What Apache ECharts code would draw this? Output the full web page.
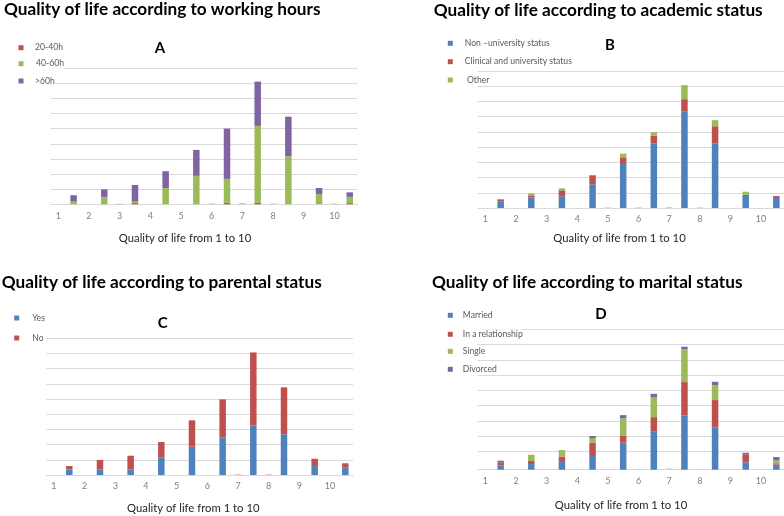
<!DOCTYPE html>
<html>
<head>
<meta charset="utf-8">
<script src="https://cdn.jsdelivr.net/npm/echarts@6/dist/echarts.min.js"></script>
<style>html,body{margin:0;padding:0;background:#fff;}#c{width:784px;height:516px;}</style>
</head>
<body>
<div id="c"></div>
<script>
// Tick labels (20 slots: labels on even slots, bars between them)
var tickLabels = ['1','','2','','3','','4','','5','','6','','7','','8','','9','','10',''];

// A: working hours (bars at 1.5 ... 10.5)
var A_20_40 = [0, 0, 0.8, 0, 0, 1.0, 1.0, 0, 0, 0.8];
var A_40_60 = [1.8, 4.9, 1.0, 10.8, 18.8, 15.8, 50.9, 31.8, 6.8, 4.1];
var A_60    = [4.2, 5.0, 11.0, 11.1, 17.2, 33.3, 29.3, 26.2, 4.0, 3.0];
var A_stub  = [0, 0, 0.5, 0, 0, 0.6, 0.8, 0.5, 0, 0.5];

// B: academic status
var B_non   = [4.4, 6.8, 7.7, 15.6, 29.6, 42.5, 63.6, 42.5, 7.9, 6.6];
var B_clin  = [1.3, 1.5, 3.9, 5.9, 3.7, 4.9, 7.9, 11.2, 0.8, 1.3];
var B_other = [0, 1.3, 1.3, 0, 2.4, 2.4, 9.2, 4.0, 2.0, 0];
var B_stub  = [0, 0, 0, 0, 0.5, 0.5, 0.7, 0.5, 0, 0];

// C: parental status
var C_yes  = [3.7, 3.7, 3.7, 11.6, 18.6, 24.8, 32.7, 26.8, 5.9, 4.8];
var C_no   = [2.2, 6.2, 9.0, 10.1, 17.4, 25.0, 48.0, 30.9, 4.8, 2.9];
var C_stub = [0, 0, 0, 0, 0, 0, 0.7, 0.6, 0, 0];

// D: marital status
var D_married = [2.8, 3.7, 5.7, 9.0, 17.7, 24.9, 35.6, 27.8, 4.8, 3.3];
var D_rel     = [2.0, 2.0, 3.0, 8.7, 4.8, 9.6, 21.9, 17.9, 5.3, 0.9];
var D_single  = [0, 4.1, 4.2, 3.1, 11.2, 13.2, 21.6, 9.8, 0, 1.9];
var D_div     = [1.1, 0, 0, 1.3, 2.1, 2.1, 1.6, 2.2, 1.0, 2.2];
var D_stub    = [0, 0, 0, 0.4, 0.4, 0.5, 0.8, 0.5, 0, 0];

var BLUE = '#4f81bd', RED = '#c0504d', GREEN = '#9bbb59', PURPLE = '#8064a2';
var GRID_C = '#d9d9d9';
var FONT = 'Lato';

function between(arr) { var o = []; for (var i = 0; i < arr.length; i++) { o.push(null); o.push(arr[i] || null); } return o; }
function onLabel(arr) { var o = []; for (var i = 0; i < arr.length; i++) { o.push(arr[i] || null); o.push(null); } return o; }

var grids = [
  {left: 50.6, top: 68.3, width: 306.8, height: 136},
  {left: 477.7, top: 71, width: 306.3, height: 137},
  {left: 46.3, top: 338.3, width: 306.7, height: 136.7},
  {left: 477.7, top: 329.5, width: 306.3, height: 140.2},
  {left: 477.7, top: 329.5, width: 306.3, height: 121.8}
];
var xAxes = [], yAxes = [];
for (var g = 0; g < 4; g++) {
  xAxes.push({type: 'category', gridIndex: g, data: tickLabels,
    axisLine: {lineStyle: {color: GRID_C, width: 1}}, axisTick: {show: false},
    axisLabel: {interval: 0, color: '#7f7f7f', fontSize: 9, fontFamily: FONT, margin: 7}});
  yAxes.push({type: 'value', gridIndex: g, min: 0, max: g === 3 ? 92 : 90, interval: 10,
    axisLine: {show: false}, axisTick: {show: false}, axisLabel: {show: false},
    splitLine: {show: g !== 3, lineStyle: {color: GRID_C, width: 1}}});
}
// gridline-only grid for panel D
xAxes.push({type: 'value', gridIndex: 4, min: 0, max: 1, show: false});
yAxes.push({type: 'value', gridIndex: 4, min: 0, max: 80, interval: 10,
  axisLine: {show: false}, axisTick: {show: false}, axisLabel: {show: false},
  splitLine: {show: true, lineStyle: {color: GRID_C, width: 1}}});

var series = [];
function addBar(name, g, data, color) {
  series.push({name: name, type: 'bar', stack: 's' + g, xAxisIndex: g, yAxisIndex: g,
    barWidth: 6.5, data: data, itemStyle: {color: color}, silent: true, animation: false});
}
addBar('20-40h', 0, between(A_20_40), RED);
addBar('40-60h', 0, between(A_40_60), GREEN);
addBar('>60h', 0, between(A_60), PURPLE);
addBar('stubA', 0, onLabel(A_stub), '#c8c8c8');
addBar('Non \u2013university status', 1, between(B_non), BLUE);
addBar('Clinical and university status', 1, between(B_clin), RED);
addBar(' Other', 1, between(B_other), GREEN);
addBar('stubB', 1, onLabel(B_stub), '#cfdca8');
addBar('Yes', 2, between(C_yes), BLUE);
addBar('No', 2, between(C_no), RED);
addBar('stubC', 2, onLabel(C_stub), '#ecc4c3');
addBar('Married', 3, between(D_married), BLUE);
addBar('In a relationship', 3, between(D_rel), RED);
addBar('Single', 3, between(D_single), GREEN);
addBar('Divorced', 3, between(D_div), PURPLE);
addBar('stubD', 3, onLabel(D_stub), '#d8c6ad');

function legendItem(name, left, cy, pad) {
  return {data: [name], left: left, top: cy - 5, orient: 'vertical', itemWidth: 5, itemHeight: 5,
    icon: 'rect', padding: 0, selectedMode: false,
    textStyle: {fontSize: 8.6, lineHeight: 10, color: '#595959', fontFamily: FONT,
      padding: [0, 0, 0, pad], backgroundColor: '#fff'}};
}
var legends = [
  legendItem('20-40h', 18.5, 47.7, 6.5),
  legendItem('40-60h', 18.5, 63.7, 7.5),
  legendItem('>60h', 18.5, 81, 6.5),
  legendItem('Non \u2013university status', 447.8, 43.3, 7),
  legendItem('Clinical and university status', 447.8, 61.7, 7),
  legendItem(' Other', 447.8, 80, 7),
  legendItem('Yes', 14.2, 318, 8),
  legendItem('No', 14.2, 338, 8),
  legendItem('Married', 447.8, 315.3, 5),
  legendItem('In a relationship', 447.8, 334.3, 5),
  legendItem('Single', 447.8, 351.3, 5),
  legendItem('Divorced', 447.8, 369.3, 5)
];

function t(text, left, top, size, bold, align, color) {
  return {text: text, left: left, top: top, padding: 0, textAlign: align,
    textStyle: {fontSize: size, fontWeight: bold ? 'bold' : 'normal', color: color || '#000', fontFamily: FONT}};
}
var titles = [
  t('Quality of life according to working hours', 4, 0.5, 17.2, true, 'left'),
  t('Quality of life according to academic status', 433.7, 2, 17.2, true, 'left'),
  t('Quality of life according to parental status', 1.7, 273.5, 17.2, true, 'left'),
  t('Quality of life according to marital status', 432, 273.5, 17.2, true, 'left'),
  t('A', 160, 41, 15, true, 'center'),
  t('B', 610, 38, 15, true, 'center'),
  t('C', 162.7, 316, 15, true, 'center'),
  t('D', 601, 306.5, 15, true, 'center'),
  t('Quality of life from 1 to 10', 185, 233, 11.3, false, 'center', '#262626'),
  t('Quality of life from 1 to 10', 619.5, 233, 11.3, false, 'center', '#262626'),
  t('Quality of life from 1 to 10', 193.3, 502.7, 11.3, false, 'center', '#262626'),
  t('Quality of life from 1 to 10', 621, 499.5, 11.3, false, 'center', '#262626')
];

var chart = echarts.init(document.getElementById('c'), null, {renderer: 'canvas'});
chart.setOption({
  animation: false,
  backgroundColor: '#fff',
  title: titles,
  legend: legends,
  grid: grids,
  xAxis: xAxes,
  yAxis: yAxes,
  series: series
});
</script>
</body>
</html>
